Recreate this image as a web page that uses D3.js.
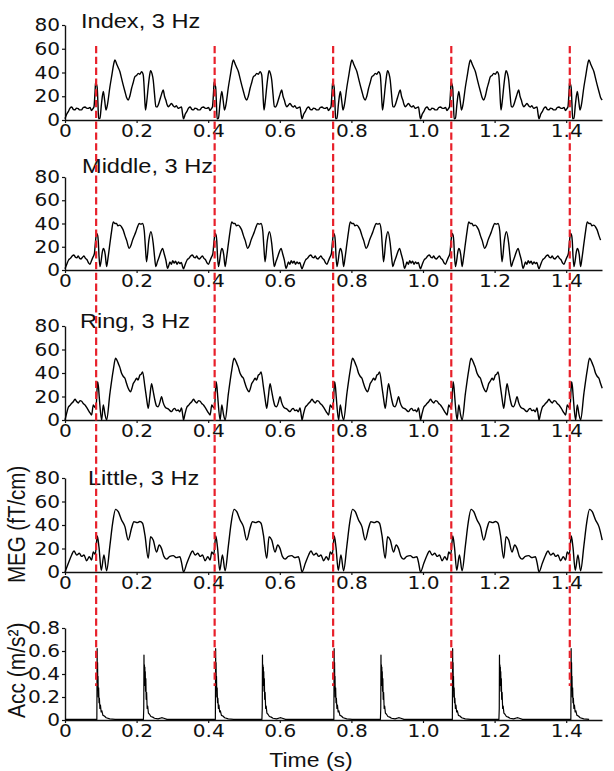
<!DOCTYPE html>
<html>
<head>
<meta charset="utf-8">
<script src="https://cdn.jsdelivr.net/npm/d3@7"></script>
<style>
  body { margin: 0; background: #fff; }
  svg { display: block; }
</style>
</head>
<body>
<svg id="fig" width="614" height="771"></svg>
<script>
// ---- data -------------------------------------------------------------
// Averaged response over one tapping cycle, repeated at the tapping rate.
const period = 0.331;                        // s, one 3 Hz tapping cycle
const tapOnsets = [0.087, 0.418, 0.749, 1.079, 1.410];
const timeTicks = [0, 0.2, 0.4, 0.6, 0.8, 1.0, 1.2, 1.4];
const megTicks = [0, 20, 40, 60, 80];
const accTicks = [0, 0.2, 0.4, 0.6, 0.8];
const fingerTitles = ["Index, 3 Hz", "Middle, 3 Hz", "Ring, 3 Hz", "Little, 3 Hz"];

// [time in cycle (s), MEG amplitude (fT/cm)]
const indexCycle = [
  [0.000, 1], [0.005, 5], [0.009, 7], [0.014, 10], [0.019, 11], [0.023, 9],
  [0.028, 8.5], [0.032, 10], [0.037, 9.5], [0.041, 8.5], [0.046, 8.5], [0.051, 10.5],
  [0.056, 11], [0.060, 10], [0.065, 9.8], [0.070, 10.5], [0.074, 8], [0.078, 9.5],
  [0.081, 11.2], [0.084, 24], [0.0855, 32], [0.088, 30], [0.090, 27], [0.092, 14],
  [0.094, 1], [0.0976, 1.5], [0.102, 14], [0.107, 24], [0.111, 16], [0.1144, 8.4],
  [0.118, 12], [0.1255, 28], [0.131, 38], [0.136, 47], [0.1395, 50.5], [0.1445, 47],
  [0.1488, 44], [0.153, 41], [0.158, 35], [0.163, 29], [0.1674, 24], [0.172, 19],
  [0.1766, 16.8], [0.181, 20], [0.186, 26.7], [0.190, 31], [0.1953, 36.5], [0.200, 37.5],
  [0.2045, 39.3], [0.209, 38.5], [0.2139, 40.7], [0.2185, 38], [0.221, 28], [0.223, 16],
  [0.225, 8.4], [0.2285, 16], [0.2325, 28], [0.236, 37], [0.239, 41.5], [0.243, 39],
  [0.2464, 33.7], [0.250, 22], [0.2538, 11.2], [0.2575, 11], [0.2604, 12.6], [0.265, 17],
  [0.270, 22], [0.2743, 25.3], [0.278, 20], [0.2817, 16.8], [0.285, 13], [0.2883, 11.2],
  [0.293, 12.5], [0.2976, 14], [0.302, 12], [0.3068, 11], [0.311, 12], [0.316, 9.8],
  [0.321, 10.5], [0.3254, 11], [0.328, 6], [0.331, 1]
];
const middleCycle = [
  [0.000, 1], [0.005, 5], [0.010, 8.6], [0.015, 10], [0.020, 12], [0.025, 12.9],
  [0.029, 11], [0.033, 10.5], [0.037, 12], [0.041, 10], [0.045, 9.5], [0.049, 11],
  [0.053, 12], [0.057, 10], [0.061, 9], [0.066, 6], [0.0697, 4.9], [0.074, 8],
  [0.078, 11], [0.082, 14], [0.085, 24], [0.0883, 31.4], [0.091, 30], [0.093, 25],
  [0.095, 12], [0.0976, 2.9], [0.101, 8], [0.104, 15], [0.107, 18.6], [0.110, 17],
  [0.1125, 13], [0.1162, 2.9], [0.120, 10], [0.1255, 22.9], [0.130, 33], [0.1348, 41.4],
  [0.139, 40], [0.144, 40], [0.148, 38], [0.153, 38.6], [0.158, 37], [0.1627, 34.3],
  [0.167, 30], [0.172, 25.7], [0.1794, 18.6], [0.184, 21], [0.1887, 25.7], [0.193, 29],
  [0.198, 32.9], [0.2025, 37], [0.2073, 40], [0.212, 39.5], [0.2166, 40], [0.2213, 34],
  [0.2245, 20], [0.2278, 7.1], [0.2343, 25.7], [0.240, 32.9], [0.2464, 22.9], [0.250, 12],
  [0.2538, 2.9], [0.258, 7], [0.2632, 11.4], [0.268, 16], [0.2725, 18.6], [0.277, 14],
  [0.2817, 8.6], [0.2864, 1.4], [0.290, 4], [0.293, 7], [0.297, 5], [0.301, 8],
  [0.305, 6], [0.309, 7.5], [0.313, 5], [0.317, 7], [0.321, 5.5], [0.325, 6.5],
  [0.328, 3.5], [0.331, 1]
];
const ringCycle = [
  [0.000, 0], [0.004, 5], [0.0093, 10.8], [0.014, 12.5], [0.0186, 14.2], [0.023, 15.5],
  [0.0279, 17.6], [0.032, 16], [0.0372, 14.5], [0.042, 16.5], [0.0465, 16], [0.051, 14],
  [0.0558, 12.8], [0.060, 11], [0.065, 8.5], [0.070, 6], [0.0744, 4.3], [0.079, 12.8],
  [0.083, 11], [0.0865, 10], [0.0911, 32.6], [0.0935, 28], [0.0958, 19], [0.1023, 0],
  [0.107, 12.8], [0.1116, 5], [0.1162, 0], [0.1255, 22.7], [0.1348, 42.5], [0.1413, 52.5],
  [0.145, 51], [0.1488, 48.2], [0.153, 45], [0.158, 39.7], [0.163, 37], [0.1674, 35.5],
  [0.172, 31], [0.1766, 27], [0.1832, 24], [0.187, 27], [0.1906, 31], [0.195, 33],
  [0.200, 35.5], [0.204, 34], [0.2092, 38.3], [0.213, 39], [0.2166, 41], [0.2232, 28.4],
  [0.228, 18], [0.2325, 9.9], [0.237, 20], [0.2418, 31], [0.246, 25], [0.251, 17],
  [0.2557, 12], [0.2604, 11.3], [0.265, 15], [0.2697, 19.9], [0.274, 15], [0.279, 11.3],
  [0.2835, 10], [0.2883, 9.5], [0.293, 8], [0.2976, 7.1], [0.302, 9], [0.3068, 9.9],
  [0.311, 8], [0.316, 8.5], [0.3207, 7], [0.3254, 10.2], [0.329, 4], [0.331, 0]
];
const littleCycle = [
  [0.000, 0], [0.0093, 7.4], [0.0186, 14.5], [0.0251, 17.9], [0.0325, 14.5], [0.040, 15.9],
  [0.0465, 13.3], [0.053, 14.5], [0.0604, 9.6], [0.0679, 13], [0.0744, 10.2], [0.079, 17],
  [0.0846, 15], [0.0902, 30.6], [0.0948, 21.5], [0.1013, 1.4], [0.1088, 14.5], [0.1162, 1],
  [0.1255, 22.7], [0.133, 41.4], [0.1413, 53.3], [0.1488, 51.3], [0.158, 44.3], [0.1674, 38.6],
  [0.1766, 27.2], [0.186, 37.4], [0.1925, 42.8], [0.2018, 42], [0.2092, 43], [0.2166, 41.5],
  [0.2232, 31.5], [0.2325, 11.6], [0.239, 30], [0.2464, 27.2], [0.2557, 17], [0.2632, 23],
  [0.2697, 19.9], [0.2762, 13.3], [0.2836, 11], [0.2929, 13.3], [0.3022, 13.9], [0.3115, 12.2],
  [0.3208, 13], [0.326, 7.4], [0.331, 0]
];
// [time in cycle (s), acceleration (m/s^2)]
const accCycle = [
  [0.000, 0.005], [0.040, 0.006], [0.089, 0.005], [0.0898, 0.62], [0.0904, 0.30],
  [0.0910, 0.50], [0.0916, 0.26], [0.0922, 0.38], [0.0930, 0.20], [0.0940, 0.28],
  [0.0950, 0.15], [0.0960, 0.19], [0.0975, 0.10], [0.0990, 0.13], [0.1010, 0.07],
  [0.1030, 0.08], [0.1060, 0.04], [0.1100, 0.035], [0.1150, 0.02], [0.1250, 0.01],
  [0.1400, 0.006], [0.2190, 0.005], [0.2200, 0.10], [0.2206, 0.565], [0.2212, 0.30],
  [0.2218, 0.48], [0.2224, 0.33], [0.2230, 0.46], [0.2236, 0.30], [0.2242, 0.42],
  [0.2250, 0.25], [0.2258, 0.36], [0.2268, 0.18], [0.2280, 0.24], [0.2295, 0.10],
  [0.2310, 0.12], [0.2330, 0.06], [0.2360, 0.05], [0.2400, 0.03], [0.2450, 0.025],
  [0.2500, 0.015], [0.2600, 0.01], [0.2700, 0.02], [0.2760, 0.015], [0.2850, 0.005],
  [0.331, 0.005]
];

// ---- layout -------------------------------------------------------------
const xRange = [65, 602];
const panelTop = [25, 177, 326, 478, 628];
const panelBottom = [120, 270, 420, 572, 720];
const titlePos = [[81, 28], [82, 173], [80, 328], [88, 485]];
const SX = 1.15;   // horizontal stretch of the lettering

const svg = d3.select("#fig");
svg.append("rect").attr("width", 614).attr("height", 771).attr("fill", "#fff");

const x = d3.scaleLinear().domain([0, 1.5]).range(xRange);

function tile(cycle) {
  const out = [];
  for (let k = 0; k < 5; k++) {
    for (const [t, v] of cycle) {
      if (k > 0 && t === 0) continue;
      const tt = t + k * period;
      if (tt <= 1.502) out.push([tt, v]);
    }
  }
  return out;
}

const fmt = d => (d === 0 ? "0" : d.toFixed(1));

const panels = [
  { cycle: indexCycle, domain: [0, 80], ticks: megTicks, tf: d3.format("d") },
  { cycle: middleCycle, domain: [0, 80], ticks: megTicks, tf: d3.format("d") },
  { cycle: ringCycle, domain: [0, 80], ticks: megTicks, tf: d3.format("d") },
  { cycle: littleCycle, domain: [0, 80], ticks: megTicks, tf: d3.format("d") },
  { cycle: accCycle, domain: [0, 0.8], ticks: accTicks, tf: fmt }
];

function styleAxis(g) {
  g.select(".domain").attr("stroke", "#111").attr("stroke-width", 1.4);
  g.selectAll(".tick line").attr("stroke", "#111").attr("stroke-width", 1.2);
  g.selectAll(".tick text")
    .attr("fill", "#111")
    .style("font-family", "'DejaVu Sans', Verdana, sans-serif")
    .style("font-size", "17.5px");
}

panels.forEach((p, i) => {
  const y = d3.scaleLinear().domain(p.domain).range([panelBottom[i], panelTop[i]]);

  const gx = svg.append("g")
    .attr("transform", `translate(0,${panelBottom[i]})`)
    .call(d3.axisBottom(x).tickValues(timeTicks).tickFormat(fmt)
      .tickSize(3).tickSizeOuter(0).tickPadding(2));
  styleAxis(gx);
  gx.selectAll(".tick text").attr("transform", `scale(${SX},1)`);

  const gy = svg.append("g")
    .attr("transform", `translate(${xRange[0]},0)`)
    .call(d3.axisLeft(y).tickValues(p.ticks).tickFormat(p.tf)
      .tickSize(3).tickSizeOuter(0).tickPadding(2));
  styleAxis(gy);
  gy.selectAll(".tick text").each(function () {
    const t = d3.select(this);
    const tx = +t.attr("x");
    t.attr("x", 0).attr("transform", `translate(${tx},0) scale(${SX},1)`);
  });

  const line = d3.line().x(d => x(d[0])).y(d => y(d[1]));
  if (i < 4) line.curve(d3.curveMonotoneX);

  svg.append("path")
    .datum(tile(p.cycle))
    .attr("fill", "none")
    .attr("stroke", "#000")
    .attr("stroke-width", i === 4 ? 1.2 : 1.4)
    .attr("stroke-linejoin", "round")
    .attr("d", line);

  if (i < 4) {
    svg.append("text")
      .attr("transform", `translate(${titlePos[i][0]},${titlePos[i][1]}) scale(${SX},1)`)
      .style("font-family", "'Liberation Sans', Arial, sans-serif")
      .style("font-size", "20.5px")
      .attr("fill", "#111")
      .text(fingerTitles[i]);
  }
});

// tap onset markers spanning all panels
svg.append("g").selectAll("line")
  .data(tapOnsets)
  .join("line")
  .attr("x1", d => x(d)).attr("x2", d => x(d))
  .attr("y1", 46).attr("y2", 686)
  .attr("stroke", "#e8202a")
  .attr("stroke-width", 2.2)
  .attr("stroke-dasharray", "7.3,3.5");

// axis titles
const labelFont = "'Liberation Sans', Arial, sans-serif";
svg.append("text")
  .attr("transform", `translate(25,583) scale(${SX},1) rotate(-90)`)
  .style("font-family", labelFont).style("font-size", "20.5px")
  .attr("fill", "#111")
  .text("MEG (fT/cm)");
svg.append("text")
  .attr("transform", `translate(25,718) scale(${SX},1) rotate(-90)`)
  .style("font-family", labelFont).style("font-size", "21px")
  .attr("fill", "#111")
  .text("Acc (m/s²)");
svg.append("text")
  .attr("transform", `translate(311,767) scale(${SX},1)`)
  .attr("text-anchor", "middle")
  .style("font-family", labelFont).style("font-size", "20px")
  .attr("fill", "#111")
  .text("Time (s)");
</script>
</body>
</html>
